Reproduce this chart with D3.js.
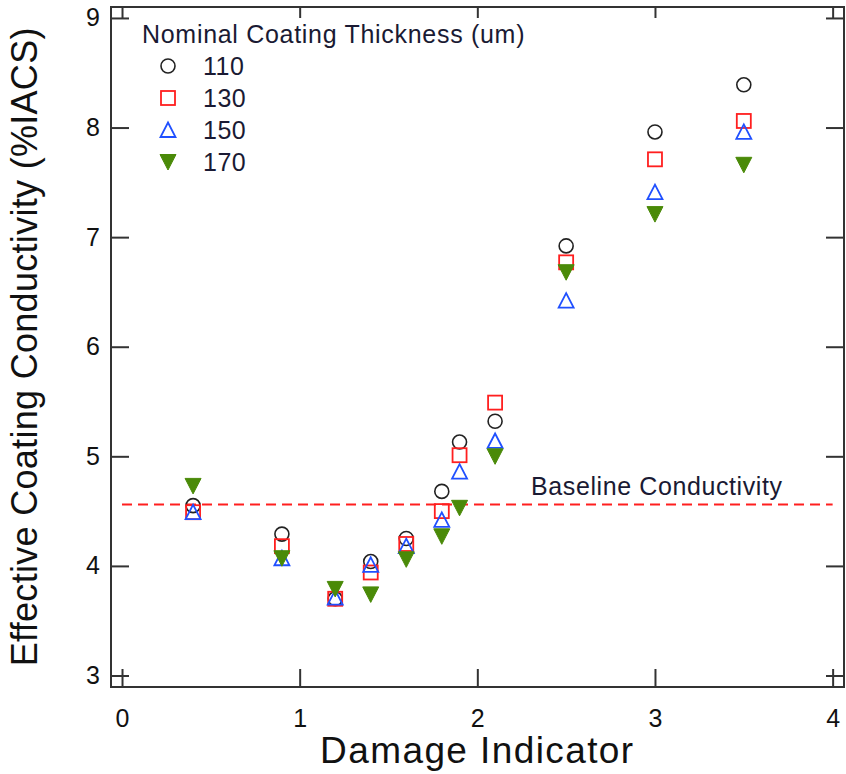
<!DOCTYPE html>
<html>
<head>
<meta charset="utf-8">
<script src="https://cdn.jsdelivr.net/npm/d3@7"></script>
<style>
  body { margin: 0; background: #fff; }
  text { font-family: "Liberation Sans", Arial, sans-serif; }
</style>
</head>
<body>
<div id="chart-area"></div>
<script>
// data
const damage = [0.4, 0.9, 1.2, 1.4, 1.6, 1.8, 1.9, 2.1, 2.5, 3.0, 3.5]
const t110 = [4.55, 4.29, 3.70, 4.04, 4.25, 4.68, 5.13, 5.32, 6.92, 7.96, 8.39]
const t130 = [4.49, 4.18, 3.70, 3.94, 4.20, 4.50, 5.01, 5.49, 6.77, 7.71, 8.06]
const t150 = [4.49, 4.07, 3.71, 4.01, 4.18, 4.42, 4.86, 5.14, 6.42, 7.41, 7.96]
const t170 = [4.73, 4.07, 3.79, 3.74, 4.06, 4.27, 4.53, 5.00, 6.68, 7.21, 7.66]
const seriesNames = ["110", "130", "150", "170"]
const baseline = 4.56
const xTicks = [0, 1, 2, 3, 4]
const yTicks = [3, 4, 5, 6, 7, 8, 9]

const W = 846, H = 774
const FRAME = { LEFT: 111, RIGHT: 844, TOP: 7, BOTTOM: 687 }

const svg = d3.select("#chart-area").append("svg")
  .attr("width", W)
  .attr("height", H)

const xScale = d3.scaleLinear()
  .domain([-0.062, 4.064])
  .range([FRAME.LEFT, FRAME.RIGHT])
const yScale = d3.scaleLinear()
  .domain([2.895, 9.1])
  .range([FRAME.BOTTOM, FRAME.TOP])

const axisColor = "#333"

// bottom axis with labels, ticks pointing inward
svg.append("g")
  .attr("transform", `translate(0, ${FRAME.BOTTOM})`)
  .call(d3.axisBottom(xScale).tickValues(xTicks).tickSize(-18).tickPadding(22).tickFormat(d3.format("d")))
// left axis
svg.append("g")
  .attr("transform", `translate(${FRAME.LEFT}, 0)`)
  .call(d3.axisLeft(yScale).tickValues(yTicks).tickSize(-18).tickPadding(11).tickFormat(d3.format("d")))
// mirrored top / right ticks, no labels
svg.append("g")
  .attr("transform", `translate(0, ${FRAME.TOP})`)
  .call(d3.axisTop(xScale).tickValues(xTicks).tickSize(-11).tickFormat(""))
svg.append("g")
  .attr("transform", `translate(${FRAME.RIGHT}, 0)`)
  .call(d3.axisRight(yScale).tickValues(yTicks).tickSize(-18).tickFormat(""))

svg.selectAll(".domain").remove()
svg.selectAll(".tick line").attr("stroke", axisColor).attr("stroke-width", 2)
svg.selectAll(".tick text")
  .attr("font-size", "25px")
  .attr("fill", "#111")
  .style("font-family", "'Liberation Sans', Arial, sans-serif")

svg.append("rect")
  .attr("x", FRAME.LEFT)
  .attr("y", FRAME.TOP)
  .attr("width", FRAME.RIGHT - FRAME.LEFT)
  .attr("height", FRAME.BOTTOM - FRAME.TOP)
  .attr("fill", "none")
  .attr("stroke", axisColor)
  .attr("stroke-width", 2)

// axis titles
svg.append("text")
  .attr("x", (xScale(0) + xScale(4)) / 2)
  .attr("y", 763)
  .attr("font-size", "37px")
  .attr("letter-spacing", "1.4px")
  .attr("text-anchor", "middle")
  .attr("fill", "#111")
  .text("Damage Indicator")
svg.append("text")
  .attr("transform", `translate(37, ${yScale(6)}) rotate(-90)`)
  .attr("font-size", "36px")
  .attr("letter-spacing", "0.3px")
  .attr("text-anchor", "middle")
  .attr("fill", "#111")
  .text("Effective Coating Conductivity (%IACS)")

// baseline
svg.append("line")
  .attr("x1", xScale(0))
  .attr("x2", xScale(4))
  .attr("y1", yScale(baseline))
  .attr("y2", yScale(baseline))
  .attr("stroke", "#ff1f1f")
  .attr("stroke-width", 2)
  .attr("stroke-dasharray", "10,6")
svg.append("text")
  .attr("x", 531)
  .attr("y", 495)
  .attr("font-size", "25px")
  .attr("letter-spacing", "0.6px")
  .attr("fill", "#1a1a33")
  .text("Baseline Conductivity")

// marker shapes
const shapes = {
  "110": { color: "#222", draw: (g) => g.append("circle").attr("r", 7).attr("fill", "none").attr("stroke", "#222").attr("stroke-width", 1.6) },
  "130": { color: "#ff1f1f", draw: (g) => g.append("rect").attr("x", -7).attr("y", -7).attr("width", 14).attr("height", 14).attr("fill", "none").attr("stroke", "#ff1f1f").attr("stroke-width", 1.8) },
  "150": { color: "#2050ff", draw: (g) => g.append("path").attr("d", "M0,-7.5L7.5,7L-7.5,7Z").attr("fill", "none").attr("stroke", "#2050ff").attr("stroke-width", 1.8) },
  "170": { color: "#4a8a08", draw: (g) => g.append("path").attr("d", "M-8,-7.5L8,-7.5L0,8Z").attr("fill", "#4a8a08").attr("stroke", "#4a8a08").attr("stroke-width", 1) }
}
const seriesValues = [t110, t130, t150, t170]

seriesNames.forEach((name, i) => {
  const pts = damage.map((d, j) => ({ x: d, y: seriesValues[i][j] }))
  const marks = svg.append("g").selectAll("g")
    .data(pts)
    .enter().append("g")
    .attr("transform", d => `translate(${xScale(d.x)}, ${yScale(d.y)})`)
  marks.each(function() { shapes[name].draw(d3.select(this)) })
})

// legend
const legend = svg.append("g").attr("transform", "translate(142, 0)")
legend.append("text")
  .attr("x", 0)
  .attr("y", 43)
  .attr("font-size", "25px")
  .attr("letter-spacing", "0.7px")
  .attr("fill", "#1a1a33")
  .text("Nominal Coating Thickness (um)")
seriesNames.forEach((name, i) => {
  const row = legend.append("g").attr("transform", `translate(26, ${66 + i * 32})`)
  shapes[name].draw(row)
  row.append("text")
    .attr("x", 35)
    .attr("y", 9)
    .attr("font-size", "25px")
    .attr("letter-spacing", "0.5px")
    .attr("fill", "#1a1a33")
    .text(name)
})
</script>
</body>
</html>
